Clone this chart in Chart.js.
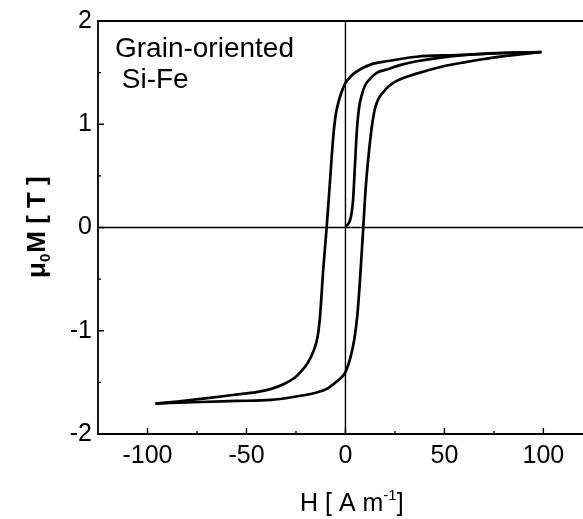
<!DOCTYPE html>
<html>
<head>
<meta charset="utf-8">
<script src="https://cdn.jsdelivr.net/npm/chart.js@4.4.1/dist/chart.umd.min.js"></script>
<style>
  html, body { margin: 0; padding: 0; background: #fff; }
  #wrap { width: 583px; height: 519px; }
</style>
</head>
<body>
<div id="wrap"><canvas id="loop" width="583" height="519"></canvas></div>
<script>
// data (H in A/m, mu0 M in T)
const initH = [0, 1.2, 2.3, 3.2, 3.9, 4.8, 5.7, 6.8, 8.2, 10, 12.4, 16, 20.8, 28, 36, 50, 73, 99];
const initM = [0.01, 0.03, 0.07, 0.15, 0.28, 0.6, 0.92, 1.15, 1.28, 1.38, 1.44, 1.5, 1.53, 1.575, 1.61, 1.65, 1.686, 1.70];

// descending branch (listed left to right)
const downH = [-96, -85, -73, -56, -45, -37.9, -31, -26, -22.7, -19, -16, -14, -12.8, -11.2, -9.5, -7.8, -6.2, -5, -3.6, -2, 0, 3, 7.3, 13, 20.8, 36, 56, 80, 99];
const downM = [-1.705, -1.685, -1.66, -1.62, -1.595, -1.565, -1.515, -1.46, -1.4, -1.31, -1.19, -1.05, -0.85, -0.4, 0, 0.45, 0.87, 1.08, 1.21, 1.31, 1.4, 1.47, 1.53, 1.58, 1.61, 1.654, 1.67, 1.69, 1.70];

// ascending branch
const upH = [-96, -73, -55, -37.9, -21, -15, -9.2, -5, -2.5, 0, 2.5, 4.5, 6, 7.2, 8.2, 9, 10.3, 12.4, 13.5, 14.9, 16.5, 19.1, 22, 25.9, 36, 48, 60, 73, 99];
const upM = [-1.705, -1.69, -1.68, -1.67, -1.625, -1.6, -1.56, -1.5, -1.46, -1.4, -1.26, -1.08, -0.85, -0.55, -0.25, 0, 0.4, 0.83, 1.0, 1.15, 1.24, 1.31, 1.37, 1.42, 1.49, 1.555, 1.6, 1.64, 1.70];

const xTicks = [-100, -50, 0, 50, 100];
const xMinor = [-75, -25, 25, 75];
const yTicks = [-2, -1, 0, 1, 2];
const yMinor = [-1.5, -0.5, 0.5, 1.5];

const FONT = "'Liberation Sans', Arial, sans-serif";

function pts(hs, ms) {
  return hs.map((h, i) => ({ x: h, y: ms[i] }));
}

function branch(hs, ms) {
  return {
    data: pts(hs, ms),
    showLine: true,
    borderColor: "#000",
    borderWidth: 2.7,
    pointRadius: 0,
    cubicInterpolationMode: "monotone",
  };
}

// frame, inward ticks, zero lines, texts
const decor = {
  id: "decor",
  beforeDatasetsDraw(chart) {
    const { ctx, chartArea: a, scales: { x, y } } = chart;
    ctx.save();
    ctx.strokeStyle = "#000";
    ctx.lineWidth = 1.4;
    // zero lines
    ctx.beginPath();
    ctx.moveTo(x.getPixelForValue(0), a.top);
    ctx.lineTo(x.getPixelForValue(0), a.bottom);
    ctx.moveTo(a.left, y.getPixelForValue(0));
    ctx.lineTo(a.right, y.getPixelForValue(0));
    ctx.stroke();
    ctx.restore();
  },
  afterDraw(chart) {
    const { ctx, chartArea: a, scales: { x, y } } = chart;
    ctx.save();
    ctx.strokeStyle = "#000";
    ctx.lineWidth = 1.8;
    ctx.beginPath();
    ctx.moveTo(a.right + 2, a.top);
    ctx.lineTo(a.left, a.top);
    ctx.lineTo(a.left, a.bottom);
    ctx.lineTo(a.right + 2, a.bottom);
    ctx.stroke();

    ctx.lineWidth = 1.4;
    ctx.beginPath();
    xTicks.forEach(v => { const p = x.getPixelForValue(v); ctx.moveTo(p, a.bottom); ctx.lineTo(p, a.bottom - 6); });
    xMinor.forEach(v => { const p = x.getPixelForValue(v); ctx.moveTo(p, a.bottom); ctx.lineTo(p, a.bottom - 3); });
    yTicks.forEach(v => { const p = y.getPixelForValue(v); ctx.moveTo(a.left, p); ctx.lineTo(a.left + 6, p); });
    yMinor.forEach(v => { const p = y.getPixelForValue(v); ctx.moveTo(a.left, p); ctx.lineTo(a.left + 3, p); });
    ctx.stroke();

    ctx.fillStyle = "#000";
    ctx.textBaseline = "alphabetic";
    ctx.textAlign = "left";
    // sample note
    ctx.font = "28px " + FONT;
    ctx.fillText("Grain-oriented", 115, 57);
    ctx.fillText(" Si-Fe", 114, 88);

    // x title with superscript
    let cx = 300, by = 511;
    ctx.font = "25px " + FONT;
    ctx.fillText("H [ A m", cx, by);
    cx += ctx.measureText("H [ A m").width;
    ctx.font = "15px " + FONT;
    ctx.fillText("-1", cx, by - 11);
    cx += ctx.measureText("-1").width;
    ctx.font = "25px " + FONT;
    ctx.fillText("]", cx, by);

    // y title, rotated, with subscript
    ctx.translate(45, 278);
    ctx.rotate(-Math.PI / 2);
    let ty = 0;
    ctx.font = "bold 26px " + FONT;
    ctx.fillText("\u03bc", ty, 0);
    ty += ctx.measureText("\u03bc").width;
    ctx.font = "bold 15px " + FONT;
    ctx.fillText("0", ty, 5);
    ty += ctx.measureText("0").width + 1;
    ctx.font = "bold 26px " + FONT;
    ctx.fillText("M [ T ]", ty, 0);
    ctx.restore();
  },
};

const config = {
  type: "scatter",
  data: {
    datasets: [branch(initH, initM), branch(downH, downM), branch(upH, upM)],
  },
  options: {
    responsive: false,
    devicePixelRatio: 1,
    animation: false,
    layout: { padding: { top: 18, right: 0, left: 0, bottom: 0 } },
    plugins: { legend: { display: false }, tooltip: { enabled: false } },
    scales: {
      x: {
        type: "linear",
        min: -125,
        max: 120,
        grid: { display: false, drawTicks: false },
        border: { display: false },
        afterBuildTicks: s => { s.ticks = xTicks.map(v => ({ value: v })); },
        afterFit: s => { s.height = 85; },
        ticks: { color: "#000", padding: 7, font: { family: FONT, size: 25 } },
      },
      y: {
        type: "linear",
        min: -2,
        max: 2,
        grid: { display: false, drawTicks: false },
        border: { display: false },
        afterBuildTicks: s => { s.ticks = yTicks.map(v => ({ value: v })); },
        afterFit: s => { s.width = 98; },
        ticks: { color: "#000", padding: 6, font: { family: FONT, size: 25 } },
      },
    },
  },
  plugins: [decor],
};

const myLoop = new Chart(document.getElementById("loop"), config);
</script>
</body>
</html>
